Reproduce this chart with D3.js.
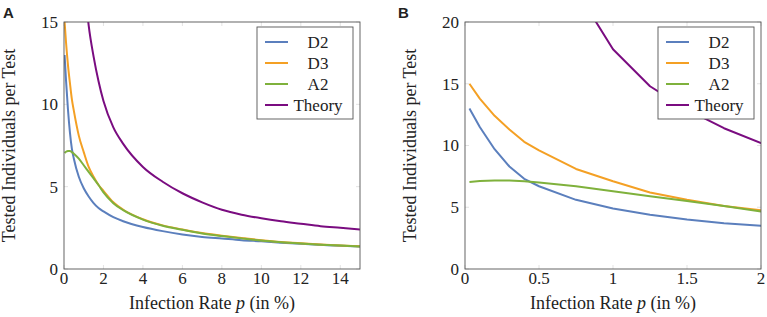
<!DOCTYPE html>
<html>
<head>
<meta charset="utf-8">
<script src="https://cdn.jsdelivr.net/npm/d3@7/dist/d3.min.js"></script>
<style>
  body { margin: 0; background: #fff; }
  svg { display: block; }
</style>
</head>
<body>
<div id="chart"></div>
<script>
// infection rate samples (in %)
const rates = [0.03, 0.1, 0.2, 0.3, 0.4, 0.5, 0.75, 1, 1.25, 1.5, 1.75, 2, 2.5, 3, 4, 5, 6, 7, 8, 9, 10, 11, 12, 13, 14, 15];

// tested individuals per test, per method
const valuesD2 = [13.0, 11.5, 9.7, 8.3, 7.3, 6.7, 5.6, 4.9, 4.4, 4.0, 3.7, 3.5, 3.15, 2.9, 2.55, 2.3, 2.1, 1.95, 1.85, 1.75, 1.68, 1.6, 1.53, 1.47, 1.41, 1.36];
const valuesD3 = [15.0, 13.8, 12.4, 11.3, 10.3, 9.6, 8.1, 7.1, 6.2, 5.6, 5.1, 4.75, 4.05, 3.6, 3.02, 2.65, 2.4, 2.18, 2.02, 1.88, 1.75, 1.64, 1.56, 1.49, 1.43, 1.38];
const valuesA2 = [7.05, 7.12, 7.17, 7.17, 7.1, 7.0, 6.7, 6.3, 5.9, 5.5, 5.1, 4.65, 4.0, 3.57, 3.0, 2.63, 2.38, 2.16, 2.0, 1.86, 1.73, 1.63, 1.55, 1.48, 1.42, 1.37];
const valuesTheory = [null, null, null, null, null, null, 22.6, 17.8, 14.8, 12.9, 11.4, 10.2, 8.6, 7.6, 6.2, 5.3, 4.6, 4.05, 3.6, 3.3, 3.08, 2.9, 2.75, 2.6, 2.5, 2.4];

const seriesNames = ["D2", "D3", "A2", "Theory"];
const seriesValues = [valuesD2, valuesD3, valuesA2, valuesTheory];
const colors = ["#5b7fbd", "#f4a024", "#7fb13c", "#7a0c80"];

const panelA = { letter: "A", xMax: 15, yMax: 15, xTicks: [0, 2, 4, 6, 8, 10, 12, 14], yTicks: [0, 5, 10, 15], left: 64, right: 360, letterX: 3, smooth: true };
const panelB = { letter: "B", xMax: 2, yMax: 20, xTicks: [0, 0.5, 1, 1.5, 2], yTicks: [0, 5, 10, 15, 20], left: 465, right: 761, letterX: 398, smooth: false };

const width = 767;
const height = 317;
const plotTop = 22;
const plotBottom = 269;

const svg = d3.select("#chart")
  .append("svg")
    .attr("width", width)
    .attr("height", height)
    .attr("viewBox", [0, 0, width, height]);

const serif = "Liberation Serif, Times New Roman, serif";

// set font inline on the text itself
function font(sel, size, family) {
  return sel.style("font-family", family || serif).style("font-size", size + "px").attr("fill", "#222");
}

function drawPanel(cfg, idx) {
  const x = d3.scaleLinear().domain([0, cfg.xMax]).range([cfg.left, cfg.right]);
  const y = d3.scaleLinear().domain([0, cfg.yMax]).range([plotBottom, plotTop]);

  const g = svg.append("g");

  // clip for curves
  const clipId = "clip" + idx;
  svg.append("clipPath").attr("id", clipId)
    .append("rect")
      .attr("x", cfg.left).attr("y", plotTop)
      .attr("width", cfg.right - cfg.left).attr("height", plotBottom - plotTop);

  // tick marks inside the frame (faint, pgfplots style)
  const ticks = g.append("g").attr("stroke", "#dcdcdc").attr("stroke-width", 0.8);
  cfg.xTicks.forEach(t => {
    ticks.append("line").attr("x1", x(t)).attr("x2", x(t)).attr("y1", plotBottom).attr("y2", plotBottom - 4);
    ticks.append("line").attr("x1", x(t)).attr("x2", x(t)).attr("y1", plotTop).attr("y2", plotTop + 4);
  });
  cfg.yTicks.forEach(t => {
    ticks.append("line").attr("x1", cfg.left).attr("x2", cfg.left + 4).attr("y1", y(t)).attr("y2", y(t));
    ticks.append("line").attr("x1", cfg.right).attr("x2", cfg.right - 4).attr("y1", y(t)).attr("y2", y(t));
  });

  // curves
  const line = d3.line()
    .defined(d => d[1] != null)
    .curve(cfg.smooth ? d3.curveMonotoneX : d3.curveLinear)
    .x(d => x(d[0]))
    .y(d => y(d[1]));

  const curves = g.append("g").attr("clip-path", `url(#${clipId})`);
  seriesValues.forEach((vals, i) => {
    const pts = rates.map((r, j) => [r, vals[j]]).filter(d => d[0] <= cfg.xMax * 1.3);
    curves.append("path")
      .datum(pts)
      .attr("fill", "none")
      .attr("stroke", colors[i])
      .attr("stroke-width", 2)
      .attr("stroke-linejoin", "round")
      .attr("d", line);
  });

  // frame
  g.append("rect")
    .attr("x", cfg.left).attr("y", plotTop)
    .attr("width", cfg.right - cfg.left).attr("height", plotBottom - plotTop)
    .attr("fill", "none")
    .attr("stroke", "#555")
    .attr("stroke-width", 0.9);

  // tick labels
  g.append("g")
    .selectAll("text")
    .data(cfg.xTicks)
    .join("text")
      .attr("x", d => x(d))
      .attr("y", 284)
      .attr("text-anchor", "middle")
      .text(d => d3.format("~g")(d))
      .call(font, 17);

  g.append("g")
    .selectAll("text")
    .data(cfg.yTicks)
    .join("text")
      .attr("x", cfg.left - 6)
      .attr("y", d => y(d))
      .attr("dy", "0.35em")
      .attr("text-anchor", "end")
      .text(d => d)
      .call(font, 17);

  // axis labels
  const xl = g.append("text")
    .attr("x", (cfg.left + cfg.right) / 2)
    .attr("y", 309)
    .attr("text-anchor", "middle")
    .call(font, 18);
  xl.append("tspan").text("Infection Rate ");
  xl.append("tspan").style("font-style", "italic").text("p");
  xl.append("tspan").text(" (in %)");

  g.append("text")
    .attr("transform", `translate(${cfg.left - 49},${(plotTop + plotBottom) / 2}) rotate(-90)`)
    .attr("text-anchor", "middle")
    .text("Tested Individuals per Test")
    .call(font, 18);

  // panel letter
  g.append("text")
    .attr("x", cfg.letterX)
    .attr("y", 18)
    .style("font-weight", "bold")
    .text(cfg.letter)
    .call(font, 15, "Liberation Sans, Arial, sans-serif");

  // legend
  const lx = cfg.right - 103;
  const ly = 27;
  const legend = g.append("g");
  legend.append("rect")
    .attr("x", lx).attr("y", ly)
    .attr("width", 96).attr("height", 92)
    .attr("fill", "#fff")
    .attr("stroke", "#555")
    .attr("stroke-width", 0.9);
  seriesNames.forEach((name, i) => {
    const yy = ly + 15 + i * 21;
    legend.append("line")
      .attr("x1", lx + 8).attr("x2", lx + 31)
      .attr("y1", yy).attr("y2", yy)
      .attr("stroke", colors[i]).attr("stroke-width", 2);
    legend.append("text")
      .attr("x", lx + 61)
      .attr("y", yy)
      .attr("dy", "0.35em")
      .attr("text-anchor", "middle")
      .text(name)
      .call(font, 17);
  });
}

drawPanel(panelA, 0);
drawPanel(panelB, 1);
</script>
</body>
</html>
